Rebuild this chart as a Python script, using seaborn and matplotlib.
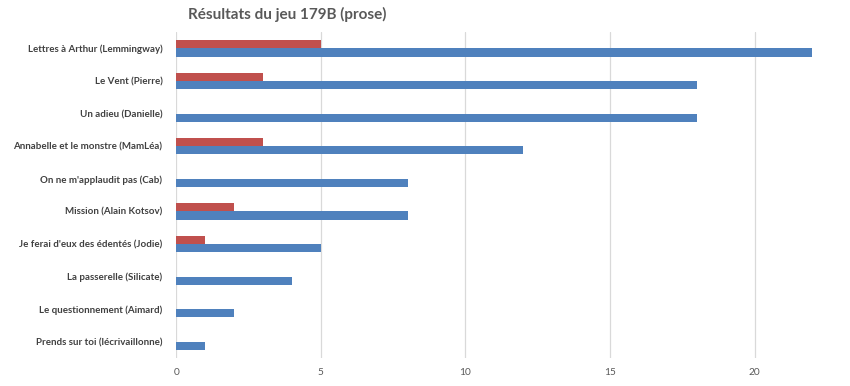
import matplotlib
matplotlib.use("Agg")
import matplotlib.pyplot as plt
import seaborn as sns
import pandas as pd

categories = [
    "Lettres à Arthur (Lemmingway)",
    "Le Vent (Pierre)",
    "Un adieu (Danielle)",
    "Annabelle et le monstre (MamLéa)",
    "On ne m'applaudit pas (Cab)",
    "Mission (Alain Kotsov)",
    "Je ferai d'eux des édentés (Jodie)",
    "La passerelle (Silicate)",
    "Le questionnement (Aimard)",
    "Prends sur toi (lécrivaillonne)",
]
series_red_name = "Série 2"
series_blue_name = "Série 1"
red_values = [5, 3, 0, 3, 0, 2, 1, 0, 0, 0]
blue_values = [22, 18, 18, 12, 8, 8, 5, 4, 2, 1]
x_ticks = [0, 5, 10, 15, 20]
title = "Résultats du jeu 179B (prose)"

df = pd.DataFrame({
    "categorie": categories * 2,
    "serie": [series_red_name] * len(categories) + [series_blue_name] * len(categories),
    "valeur": red_values + blue_values,
})

sns.set_theme(style="white")
plt.rcParams["font.family"] = ["Lato", "DejaVu Sans"]

fig = plt.figure(figsize=(8.5, 3.86), dpi=100)
ax = fig.add_axes([0.2074, 0.0725, 0.7926, 0.8445])

sns.barplot(
    data=df, y="categorie", x="valeur", hue="serie",
    order=categories, hue_order=[series_red_name, series_blue_name],
    palette={series_red_name: "#C0504D", series_blue_name: "#4F81BD"},
    orient="h", width=0.51, gap=0, legend=False, ax=ax, errorbar=None,
    linewidth=0, saturation=1,
)

ax.set_xlim(0, 23.3)
ax.set_xticks(x_ticks)
ax.set_xticklabels([str(t) for t in x_ticks])
ax.set_xlabel("")
ax.set_ylabel("")
ax.grid(axis="x", color="#D9D9D9", linewidth=0.9)
ax.set_axisbelow(True)
for s in ax.spines.values():
    s.set_visible(False)
ax.tick_params(axis="y", length=0, pad=10, labelsize=7.0, labelcolor="#404040")
ax.tick_params(axis="x", length=0, pad=7, labelsize=7.3, labelcolor="#595959")
for lbl in ax.get_yticklabels():
    lbl.set_fontweight("bold")

fig.text(287 / 850, 1 - 14 / 386, title, ha="center", va="center",
         fontsize=11, fontweight="bold", color="#595959")

fig.savefig("out.png", dpi=100)
